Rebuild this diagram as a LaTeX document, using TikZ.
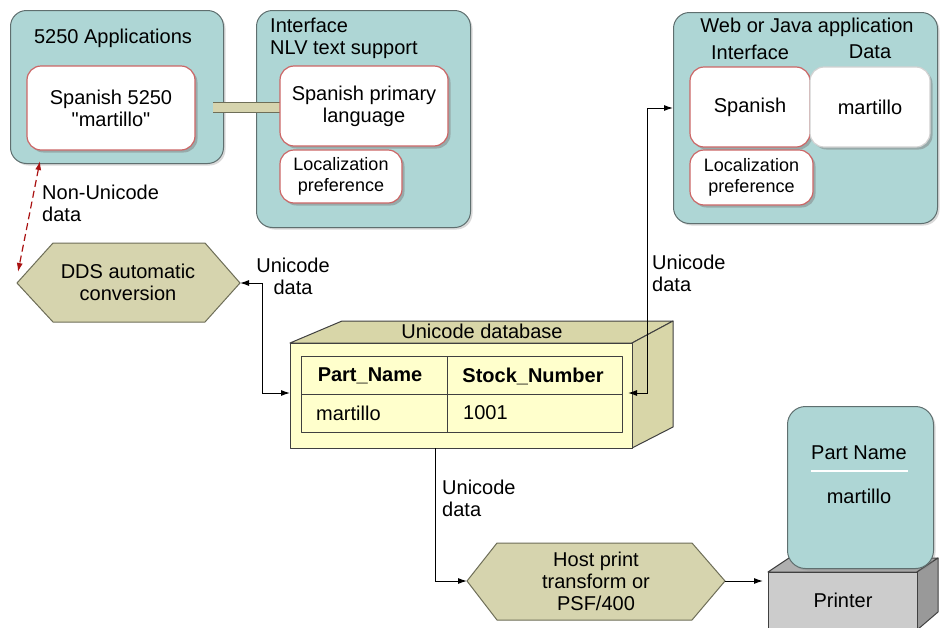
\documentclass[tikz,border=0pt]{standalone}
\usepackage{fontspec}
\setmainfont{Liberation Sans}[Ligatures=TeXOff]
\usetikzlibrary{arrows.meta,shadows}
\definecolor{tealfill}{HTML}{AED6D5}
\definecolor{panelborder}{HTML}{5F6F6F}
\definecolor{khaki}{HTML}{D6D4AE}
\definecolor{khakiborder}{HTML}{6E6E58}
\definecolor{dbfront}{HTML}{FFFFCC}
\definecolor{dbside}{HTML}{D8D6A8}
\definecolor{redb}{HTML}{CC6666}
\definecolor{dashred}{HTML}{AA1111}
\definecolor{prfront}{HTML}{CCCCCC}
\definecolor{prtop}{HTML}{AFAFAF}
\definecolor{prside}{HTML}{999999}
\tikzset{
  panel/.style={draw=panelborder, fill=tealfill, line width=1pt, rounded corners=16pt, inner sep=0pt, anchor=north west,
    drop shadow={shadow xshift=2pt, shadow yshift=-2pt, opacity=0.3}},
  whitebox/.style={draw=redb, fill=white, line width=1.2pt, rounded corners=14pt, align=center, inner sep=0pt,
    drop shadow={shadow xshift=2.5pt, shadow yshift=-2.5pt, opacity=0.5}},
  databox/.style={whitebox, draw=gray!35},
  smalltxt/.style={font=\fontsize{18}{21}\selectfont},
  txt/.style={inner sep=0pt, align=center},
  ltxt/.style={inner sep=0pt, align=left, anchor=west},
  hexa/.style={draw=khakiborder, fill=khaki, line width=1pt},
  arr/.style={-{Latex[length=9pt,width=6pt]}, line width=1pt},
  biarr/.style={{Latex[length=9pt,width=6pt]}-{Latex[length=9pt,width=6pt]}, line width=1pt},
  redarr/.style={{Latex[length=9pt,width=6pt]}-{Latex[length=9pt,width=6pt]}, line width=1.2pt, dashred, dash pattern=on 7pt off 4pt},
  bar/.style={line width=1pt, draw=khakiborder, double=khaki, double distance=9pt},
  face/.style={draw=black!75, line width=1pt, line join=round},
}
\begin{document}
\begin{tikzpicture}[x=1pt,y=-1pt, font=\fontsize{20}{22}\selectfont]
\clip (0,0) rectangle (940,627);
\fill[white] (0,0) rectangle (940,627);

% panels
\node[panel, minimum width=213pt, minimum height=153pt] (p1) at (10,10) {};
\node[panel, minimum width=214pt, minimum height=217pt] (p2) at (256,10) {};
\node[panel, minimum width=264pt, minimum height=211pt] (p3) at (673,12) {};

\node[txt] (t1) at (113,38) {5250 Applications};
\node[ltxt] (t2) at (270,38.5) {Interface\\NLV text support};
\node[txt] (t3) at (807,27) {Web or Java application};
\node[txt] (t3a) at (750,52) {Interface};
\node[txt] (t3b) at (870,52) {Data};

% connecting bar
\coordinate (barL) at (213,107.5);
\coordinate (barR) at (285,107.5);
\draw[bar] (barL) -- (barR);

% inner boxes
\node[whitebox, minimum width=168pt, minimum height=84pt] (in1) at (111,108) {Spanish 5250\\"martillo"};
\node[whitebox, minimum width=168pt, minimum height=80pt] (in2) at (364,106) {Spanish primary\\language};
\node[whitebox, smalltxt, minimum width=122pt, minimum height=53pt] (loc1) at (341,176.5) {Localization\\preference};
\node[whitebox, minimum width=120pt, minimum height=80pt] (web1) at (750,107) {Spanish};
\node[databox, minimum width=120pt, minimum height=80pt] (web2) at (870,107) {martillo};
\node[whitebox, smalltxt, minimum width=123pt, minimum height=55pt] (loc2) at (751.5,177.5) {Localization\\preference};

% DDS hexagon
\draw[hexa] (17,283) -- (53,243) -- (205,243) -- (240,283) -- (205,322) -- (53,322) -- cycle;
\node[txt] (dds) at (128,282) {DDS automatic\\conversion};
\coordinate (ddsE) at (240,283);
\coordinate (ddsW) at (18,272);
\coordinate (in1S) at (40,161);

% Host print hexagon
\draw[hexa] (467,581) -- (497,543) -- (692,543) -- (725,581) -- (692,620) -- (497,620) -- cycle;
\node[txt] (hp) at (596,581) {Host print\\transform or\\PSF/400};
\coordinate (hpW) at (467,581);
\coordinate (hpE) at (725,581);

% database
\draw[face, fill=dbside] (290,343) -- (342,321) -- (673,321) -- (632,343) -- cycle;
\draw[face, fill=dbside] (632,343) -- (673,321) -- (673,427) -- (632,448) -- cycle;
\draw[face, fill=dbfront] (290,343) rectangle (632,448);
\node[txt] (dbt) at (482,331) {Unicode database};
\draw[face] (301,356) rectangle (622,432);
\draw[face] (301,394) -- (622,394);
\draw[face] (447,356) -- (447,432);
\node[txt, font=\fontsize{20}{22}\selectfont\bfseries] (c11) at (370,376) {Part\_Name};
\node[txt, font=\fontsize{20}{22}\selectfont\bfseries] (c12) at (533,376) {Stock\_Number};
\node[ltxt] (c21) at (316,413) {martillo};
\node[ltxt] (c22) at (463,413) {1001};
\coordinate (dbW) at (290,393);
\coordinate (dbE) at (628,393);
\coordinate (dbS) at (435,448);
\coordinate (webW) at (673,108);

% printer
\draw[face, fill=prtop] (768,572) -- (789,558) -- (938,558) -- (917,572) -- cycle;
\draw[face, fill=prside] (917,572) -- (938,558) -- (938,612) -- (917,630) -- cycle;
\draw[face, fill=prfront] (768,572) rectangle (917,640);
\node[txt] (pr) at (843,600) {Printer};
\coordinate (prW) at (763,581);

% paper
\node[panel, rounded corners=18pt, minimum width=146pt, minimum height=162pt] (paper) at (787,406) {};
\node[txt] (pn) at (859,453) {Part Name};
\draw[white, line width=2pt] (811,471) -- (908,471);
\node[txt] (pm) at (859,496) {martillo};

% connectors
\draw[redarr] (in1S) -- (ddsW);
\node[ltxt] (l1) at (42,203) {Non-Unicode\\data};
\draw[biarr] (ddsE) -- ++(22,0) |- (dbW);
\node[txt] (l2) at (293,276.5) {Unicode\\data};
\draw[biarr] (dbE) -- (647,393) |- (webW);
\node[ltxt] (l3) at (652,273) {Unicode\\data};
\draw[arr] (dbS) |- (hpW);
\node[ltxt] (l4) at (442,498) {Unicode\\data};
\draw[arr] (hpE) -- (prW);
\end{tikzpicture}
\end{document}
